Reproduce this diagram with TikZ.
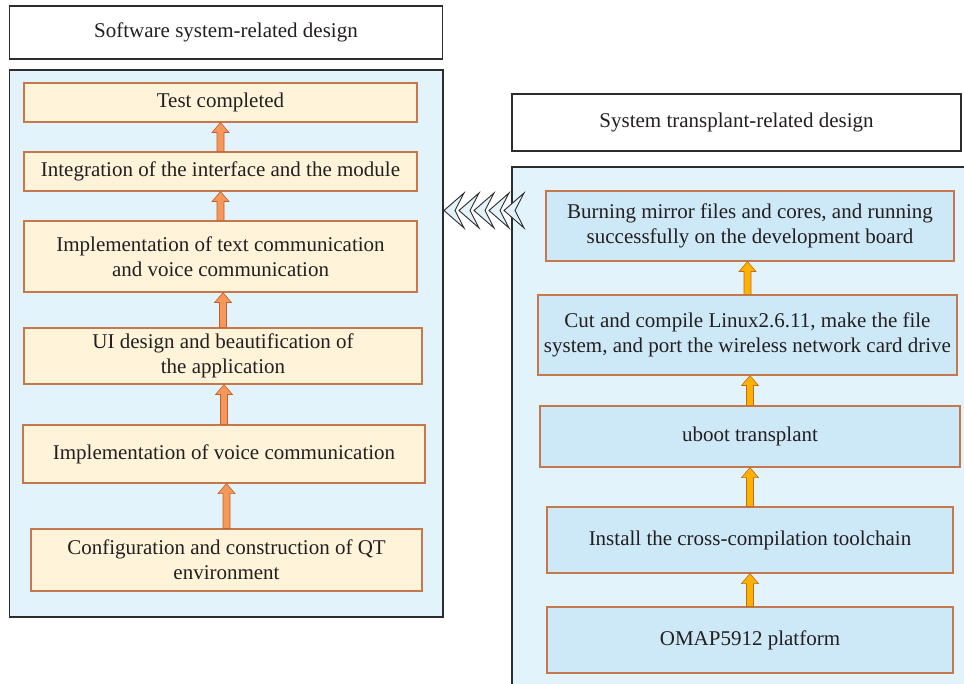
\documentclass[tikz,border=0pt]{standalone}
\usepackage{fontspec}
\setmainfont{Liberation Serif}
\usetikzlibrary{calc}
\definecolor{panelblue}{RGB}{226,243,251}
\definecolor{stepcream}{RGB}{255,244,218}
\definecolor{stepblue}{RGB}{205,233,247}
\definecolor{stepedge}{RGB}{196,120,76}
\definecolor{arrowL}{RGB}{247,152,88}
\definecolor{arrowLedge}{RGB}{190,95,45}
\definecolor{arrowR}{RGB}{255,176,0}
\definecolor{arrowRedge}{RGB}{185,110,30}
\definecolor{inkgray}{RGB}{35,31,32}
\definecolor{framegray}{RGB}{45,45,45}

% block arrow from the top of #2 up to the bottom of #3
\newcommand{\steparrow}[3]{%
  \path[#1] let \p1=(#2.north), \p2=(#3.south) in
    (\x1-3.5pt,\y1) -- (\x1-3.5pt,\y2-10pt) -- (\x1-8.5pt,\y2-10pt) -- (\x1,\y2)
    -- (\x1+8.5pt,\y2-10pt) -- (\x1+3.5pt,\y2-10pt) -- (\x1+3.5pt,\y1) -- cycle;}

\begin{document}
\begin{tikzpicture}[x=1pt, y=-1pt,
    every node/.style={font=\fontsize{21}{25}\selectfont, text=inkgray},
    hdr/.style={draw=framegray, line width=1.2pt, fill=white, align=center, inner sep=2pt},
    panel/.style={draw=framegray, line width=1.2pt, fill=panelblue, inner sep=0pt},
    swstep/.style={draw=stepedge, line width=1.1pt, fill=stepcream, align=center, inner sep=2pt},
    osstep/.style={draw=stepedge, line width=1.1pt, fill=stepblue, align=center, inner sep=2pt},
    swarrow/.style={draw=arrowLedge, line width=0.6pt, fill=arrowL},
    osarrow/.style={draw=arrowRedge, line width=0.6pt, fill=arrowR},
    chevron/.style={draw=framegray, line width=0.9pt, fill=panelblue, line join=miter}
  ]
    \useasboundingbox (0,0) rectangle (964,684);

    % software side
    \node[hdr, minimum width=433pt, minimum height=53pt] (swhead) at (226,32.5) {Software system-related design};
    \node[panel, minimum width=433.5pt, minimum height=547pt] (swpanel) at (226.25,343.5) {};
    \node[swstep, minimum width=393pt, minimum height=39pt] (sw1) at (220.5,102.5) {Test completed};
    \node[swstep, minimum width=393pt, minimum height=39pt] (sw2) at (220.5,171.5) {Integration of the interface and the module};
    \node[swstep, minimum width=393pt, minimum height=71pt] (sw3) at (220.5,256.5) {Implementation of text communication\\and voice communication};
    \node[swstep, minimum width=398pt, minimum height=56pt] (sw4) at (223,356) {UI design and beautification of\\the application};
    \node[swstep, minimum width=402pt, minimum height=58pt] (sw5) at (224,454) {Implementation of voice communication};
    \node[swstep, minimum width=391pt, minimum height=62pt] (sw6) at (226.5,560) {Configuration and construction of QT\\environment};

    \steparrow{swarrow}{sw2}{sw1}
    \steparrow{swarrow}{sw3}{sw2}
    \steparrow{swarrow}{sw4}{sw3}
    \steparrow{swarrow}{sw5}{sw4}
    \steparrow{swarrow}{sw6}{sw5}

    % transplant side
    \node[hdr, minimum width=449pt, minimum height=57pt] (oshead) at (736.5,122.5) {System transplant-related design};
    \node[panel, minimum width=454pt, minimum height=519pt] (ospanel) at (739,426.5) {};
    \node[osstep, minimum width=408pt, minimum height=70pt] (os1) at (750,226) {Burning mirror files and cores, and running\\successfully on the development board};
    \node[osstep, minimum width=419pt, minimum height=80pt] (os2) at (747.5,335) {Cut and compile Linux2.6.11, make the file\\system, and port the wireless network card drive};
    \node[osstep, minimum width=420pt, minimum height=61pt] (os3) at (750,436.5) {uboot transplant};
    \node[osstep, minimum width=406pt, minimum height=66pt] (os4) at (750,540) {Install the cross-compilation toolchain};
    \node[osstep, minimum width=406pt, minimum height=66pt] (os5) at (750,640) {OMAP5912 platform};

    \steparrow{osarrow}{os2}{os1}
    \steparrow{osarrow}{os3}{os2}
    \steparrow{osarrow}{os4}{os3}
    \steparrow{osarrow}{os5}{os4}

    % chevrons between the two panels
    \foreach \i in {0,...,4}
      \filldraw[chevron] (444+15*\i,210.5) -- ++(20,-17.5) -- ++(-9,17.5) -- ++(9,17.5) -- cycle;
\end{tikzpicture}
\end{document}
